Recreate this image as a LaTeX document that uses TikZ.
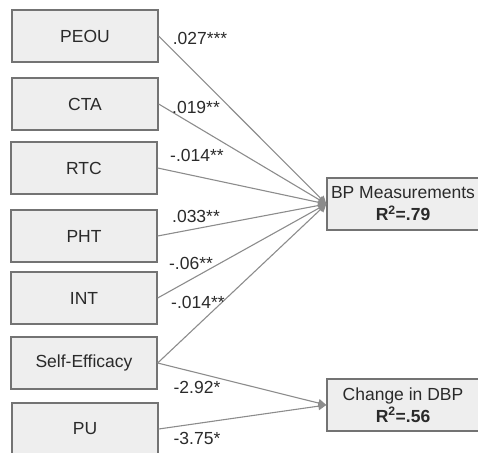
\documentclass[tikz,border=0pt]{standalone}
\usepackage{fontspec}
\setmainfont{Liberation Sans}
\usetikzlibrary{arrows.meta}
\definecolor{boxfill}{HTML}{EEEEEE}
\definecolor{boxline}{HTML}{737373}
\definecolor{linegray}{HTML}{8C8C8C}
\definecolor{txt}{HTML}{2A2A2A}

\begin{document}
\begin{tikzpicture}[x=1pt,y=-1pt,
  var/.style={draw=boxline,fill=boxfill,line width=1.3pt,minimum width=146pt,minimum height=52pt,inner sep=0pt,text=txt,font=\fontsize{17.5}{20}\selectfont},
  outcome/.style={var,minimum width=152pt,align=center,font=\fontsize{17.5}{22}\selectfont},
  coef/.style={text=txt,inner sep=0pt,font=\fontsize{17.5}{20}\selectfont},
  path/.style={draw=linegray,line width=1.1pt,-{Triangle[length=8pt,width=8pt]}}]
\useasboundingbox (0,0) rectangle (478,452);
\clip (0,0) rectangle (478,452);
% predictors
\node[var] (peou) at (85,36) {PEOU};
\node[var] (cta) at (85,104) {CTA};
\node[var] (rtc) at (84,168) {RTC};
\node[var] (pht) at (84,236) {PHT};
\node[var] (int) at (84,298) {INT};
\node[var] (se) at (84,363) {Self-Efficacy};
\node[var] (pu) at (85,429) {PU};
% outcomes
\node[outcome] (bp) at (403,204) {BP Measurements\\\textbf{R\textsuperscript{2}=.79}};
\node[outcome] (dbp) at (403,405) {Change in DBP\\\textbf{R\textsuperscript{2}=.56}};
% paths
\draw[path] (peou.east) -- (bp.west);
\draw[path] (cta.east) -- (bp.west);
\draw[path] (rtc.east) -- (bp.west);
\draw[path] (pht.east) -- (bp.west);
\draw[path] (int.east) -- (bp.west);
\draw[path] (se.east) -- (bp.west);
\draw[path] (se.east) -- (dbp.west);
\draw[path] (pu.east) -- (dbp.west);
% coefficients
\node[coef] (c1) at (200,38) {.027***};
\node[coef] (c2) at (196,107) {.019**};
\node[coef] (c3) at (197,155) {-.014**};
\node[coef] (c4) at (196,216) {.033**};
\node[coef] (c5) at (191,263) {-.06**};
\node[coef] (c6) at (198,302) {-.014**};
\node[coef] (c7) at (197,387) {-2.92*};
\node[coef] (c8) at (197,438) {-3.75*};
\end{tikzpicture}
\end{document}
